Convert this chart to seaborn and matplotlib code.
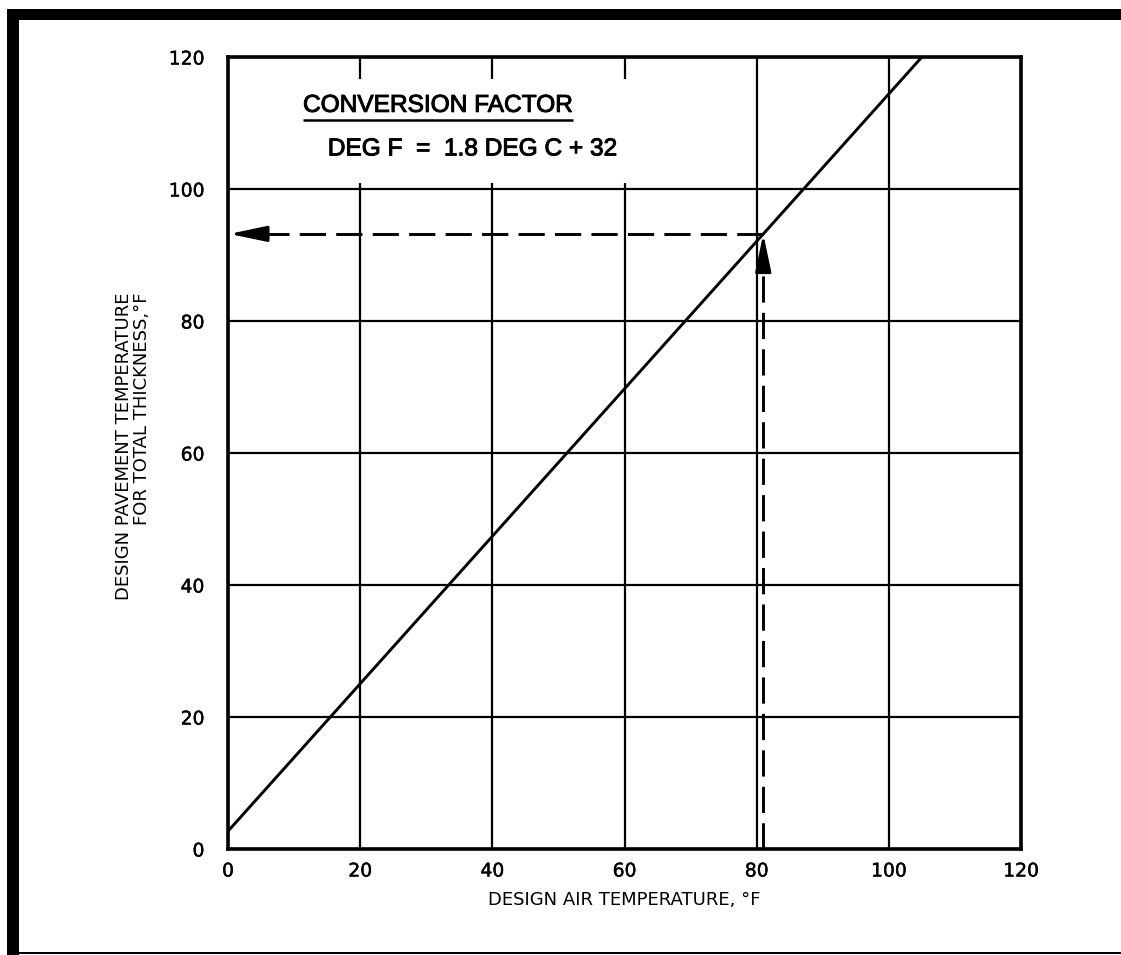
import matplotlib
matplotlib.use("Agg")
import matplotlib.pyplot as plt
import matplotlib.patheffects as pe
from matplotlib.patches import Rectangle
import pandas as pd
import seaborn as sns

# Design relationship: pavement temperature vs. air temperature (deg F)
air_temp = [0, 105]
pavement_temp = [2.7, 120]

# Worked example
example_air = 81
example_pavement = 93.2

x_ticks = [0, 20, 40, 60, 80, 100, 120]
y_ticks = [0, 20, 40, 60, 80, 100, 120]

x_label = "DESIGN AIR TEMPERATURE, °F"
y_label = "DESIGN PAVEMENT TEMPERATURE\nFOR TOTAL THICKNESS,°F"
note_title = "CONVERSION FACTOR"
note_formula = "DEG F  =  1.8 DEG C + 32"

sns.set_theme(style="white")
plt.rcParams["font.family"] = ["DejaVu Sans"]

fig = plt.figure(figsize=(11.21, 9.55), dpi=100)
ax = fig.add_axes([0.2034, 0.1110, 0.7074, 0.8293])

df = pd.DataFrame({"air": air_temp, "pavement": pavement_temp})
sns.lineplot(data=df, x="air", y="pavement", ax=ax, color="black", lw=2.1, zorder=4)

light = [pe.withStroke(linewidth=0.3, foreground="black")]

ax.set_xlim(x_ticks[0], x_ticks[-1])
ax.set_ylim(y_ticks[0], y_ticks[-1])
ax.set_xticks(x_ticks)
ax.set_yticks(y_ticks)
ax.set_xticklabels([str(t) for t in x_ticks], fontsize=13.5)
ax.set_yticklabels([str(t) for t in y_ticks], fontsize=13.5)
ax.tick_params(axis="x", length=0, pad=9, colors="black")
ax.tick_params(axis="y", length=0, pad=17, colors="black")
for lab in ax.get_xticklabels() + ax.get_yticklabels():
    lab.set_path_effects(light)
ax.grid(True, color="black", lw=1.6, zorder=1)
for side in ax.spines.values():
    side.set_color("black")
    side.set_linewidth(2.6)

ax.set_xlabel(x_label, fontsize=13, color="black")
ax.xaxis.set_label_coords(0.5, -0.053)
ax.xaxis.label.set_va("top")
ax.set_ylabel(y_label, fontsize=13, color="black", linespacing=1.0,
              multialignment="right")
ax.yaxis.set_label_coords(-0.097, 0.509)

# White panel behind the conversion note, hiding grid lines beneath it
ax.add_patch(Rectangle((4, 100.9), 58.5, 15.8, facecolor="white",
                       edgecolor="none", zorder=2))
note_font = dict(fontsize=17.6, ha="left", va="center", color="black", zorder=5,
                 family="Liberation Sans",
                 path_effects=[pe.withStroke(linewidth=0.7, foreground="black")])
ax.text(11.35, 112.6, note_title, **note_font)
ax.plot([11.35, 52.2], [110.5, 110.5], color="black", lw=1.8, zorder=5,
        solid_capstyle="butt")
ax.text(15.1, 106.0, note_formula, **note_font)

# Worked example: dashed path up from the air temperature, then across
dash = (0, (9, 3.5))
head = "-|>,head_length=1.9,head_width=0.4"
ax.plot([example_air, example_air], [0, example_pavement - 4.5],
        color="black", lw=2.1, linestyle=dash, zorder=3)
ax.annotate("", xy=(example_air, example_pavement),
            xytext=(example_air, example_pavement - 5.0),
            arrowprops=dict(arrowstyle=head, color="black", lw=2.1,
                            shrinkA=0, shrinkB=0),
            zorder=3)
ax.plot([example_air, 4.5], [example_pavement, example_pavement],
        color="black", lw=2.1, linestyle=dash, zorder=3)
ax.annotate("", xy=(0.2, example_pavement), xytext=(5.0, example_pavement),
            arrowprops=dict(arrowstyle=head, color="black", lw=2.1,
                            shrinkA=0, shrinkB=0),
            zorder=3)

# Page frame: heavy bars on the left and top, thin rule at the bottom
fig.add_artist(Rectangle((7 / 1121, 0), 12 / 1121, 1 - 9 / 955,
                         transform=fig.transFigure, facecolor="black",
                         edgecolor="none"))
fig.add_artist(Rectangle((7 / 1121, 1 - 20 / 955), 1, 11 / 955,
                         transform=fig.transFigure, facecolor="black",
                         edgecolor="none"))
fig.add_artist(Rectangle((7 / 1121, 1 - 954 / 955), 1, 2.5 / 955,
                         transform=fig.transFigure, facecolor="black",
                         edgecolor="none"))

fig.savefig("out.png", dpi=100, facecolor="white")
